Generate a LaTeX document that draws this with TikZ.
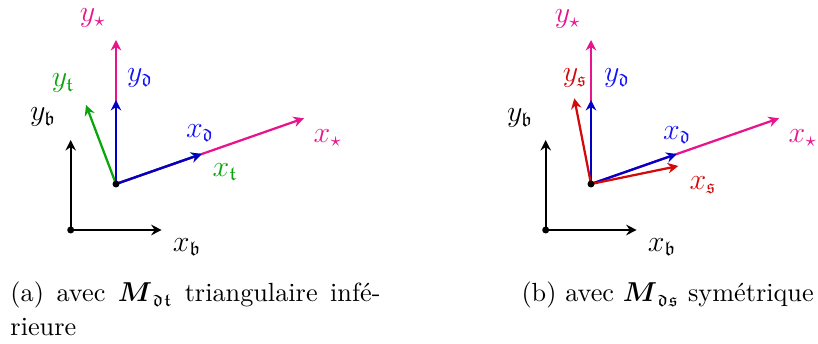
\documentclass[tikz,border=0pt]{standalone}
\usepackage{amsmath,amssymb}
\usetikzlibrary{arrows.meta}
\definecolor{pinkc}{RGB}{232,20,140}
\definecolor{bluel}{RGB}{20,20,245}
\definecolor{bluea}{RGB}{0,0,200}
\definecolor{greenc}{RGB}{10,165,10}
\definecolor{redc}{RGB}{210,10,10}
\begin{document}
\begin{tikzpicture}[x=0.4pt,y=-0.4pt,
  vec/.style={line width=0.9pt,-{Stealth[length=4.2pt,width=4.2pt,inset=1.4pt]}},
  lbl/.style={inner sep=0pt,font=\fontsize{12}{14}\selectfont},
  captext/.style={inner sep=0pt,anchor=base west,font=\fontsize{10.5}{13}\selectfont}]
\useasboundingbox (0,0) rectangle (818,344);
% ---------- panel (a)
\coordinate (ob) at (70.7,230);
\coordinate (xb) at (161.7,230);
\coordinate (yb) at (70.7,140);
\coordinate (od) at (116,184);
\coordinate (ys) at (116,40);
\coordinate (yd) at (116,100);
\coordinate (xs) at (304,118.3);
\coordinate (xd) at (201.7,154);
\coordinate (yt) at (86,105);
\draw[vec] (ob) -- (xb);
\draw[vec] (ob) -- (yb);
\draw[vec,greenc] (od) -- (yt);
\draw[vec,greenc] (od) -- (xd);
\draw[vec,pinkc] (od) -- (ys);
\draw[vec,pinkc] (od) -- (xs);
\draw[vec,bluea] (od) -- (yd);
\draw[vec,bluea] (od) -- (xd);
\fill (ob) circle (1.4pt);
\fill (od) circle (1.4pt);
\node[lbl,pinkc] (lys) at (93,18) {$y_\star$};
\node[lbl,bluel] (lyd) at (140,78) {$y_{\mathfrak{d}}$};
\node[lbl,greenc] (lyt) at (63,83) {$y_{\mathfrak{t}}$};
\node[lbl] (lyb) at (43,117) {$y_{\mathfrak{b}}$};
\node[lbl,bluel] (lxd) at (200,133) {$x_{\mathfrak{d}}$};
\node[lbl,pinkc] (lxs) at (328,138) {$x_\star$};
\node[lbl,greenc] (lxt) at (225,172) {$x_{\mathfrak{t}}$};
\node[lbl] (lxb) at (187,247) {$x_{\mathfrak{b}}$};
\node[captext] (capa1) at (10,302) {\makebox[148pt][s]{(a) avec $\boldsymbol{M}_{\mathfrak{dt}}$ triangulaire infé-}};
\node[captext] (capa2) at (10,336) {rieure};
% ---------- panel (b)
\coordinate (ob2) at (545.7,230);
\coordinate (xb2) at (636.7,230);
\coordinate (yb2) at (545.7,140);
\coordinate (od2) at (591,184);
\coordinate (ys2) at (591,40);
\coordinate (yd2) at (591,100);
\coordinate (xs2) at (779,118.3);
\coordinate (xd2) at (676.7,154);
\coordinate (yss2) at (574.3,98.3);
\coordinate (xss2) at (678.3,166);
\draw[vec] (ob2) -- (xb2);
\draw[vec] (ob2) -- (yb2);
\draw[vec,pinkc] (od2) -- (ys2);
\draw[vec,pinkc] (od2) -- (xs2);
\draw[vec,bluea] (od2) -- (yd2);
\draw[vec,bluea] (od2) -- (xd2);
\draw[vec,redc] (od2) -- (yss2);
\draw[vec,redc] (od2) -- (xss2);
\fill (ob2) circle (1.4pt);
\fill (od2) circle (1.4pt);
\node[lbl,pinkc] (lys2) at (568,19) {$y_\star$};
\node[lbl,redc] (lyss2) at (575,78) {$y_{\mathfrak{s}}$};
\node[lbl,bluel] (lyd2) at (617,78) {$y_{\mathfrak{d}}$};
\node[lbl] (lyb2) at (520,118) {$y_{\mathfrak{b}}$};
\node[lbl,bluel] (lxd2) at (677,135) {$x_{\mathfrak{d}}$};
\node[lbl,pinkc] (lxs2) at (803,138) {$x_\star$};
\node[lbl,redc] (lxss2) at (703,185) {$x_{\mathfrak{s}}$};
\node[lbl] (lxb2) at (662,247) {$x_{\mathfrak{b}}$};
\node[captext] (capb) at (521,302) {(b) avec $\boldsymbol{M}_{\mathfrak{ds}}$ symétrique};
\end{tikzpicture}
\end{document}
